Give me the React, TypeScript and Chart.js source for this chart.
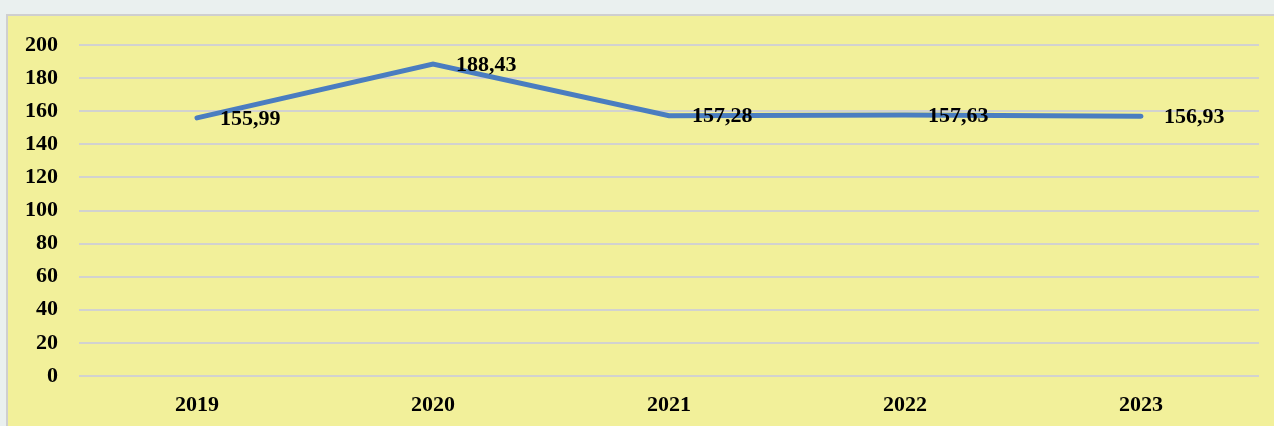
import React, { useEffect, useRef } from "react";
import { Chart, registerables } from "chart.js";

Chart.register(...registerables);

const categories = ["2019", "2020", "2021", "2022", "2023"];
const values = [155.99, 188.43, 157.28, 157.63, 156.93];
const yMin = 0;
const yMax = 200;
const yStep = 20;

const FONT = '"Liberation Serif", "Times New Roman", serif';

const labelPlugin = {
  id: "valueLabels",
  afterDatasetsDraw(chart: any) {
    const ctx = chart.ctx;
    const meta = chart.getDatasetMeta(0);
    ctx.save();
    ctx.font = `bold 22px ${FONT}`;
    ctx.fillStyle = "#000000";
    ctx.textAlign = "left";
    ctx.textBaseline = "middle";
    meta.data.forEach((pt: any, i: number) => {
      const txt = values[i].toFixed(2).replace(".", ",");
      ctx.fillText(txt, pt.x + 23, pt.y + 1);
    });
    ctx.restore();
  },
};

export default function App() {
  const ref = useRef<HTMLCanvasElement | null>(null);
  useEffect(() => {
    document.body.style.margin = "0";
    const c = ref.current;
    if (!c) return;
    const chart = new Chart(c, {
      type: "line",
      data: {
        labels: categories,
        datasets: [
          {
            data: values,
            borderColor: "#4A7DC0",
            backgroundColor: "#4A7DC0",
            borderWidth: 5,
            tension: 0,
            pointRadius: 0,
            pointHoverRadius: 0,
            borderCapStyle: "round",
            borderJoinStyle: "miter",
            fill: false,
          },
        ],
      },
      options: {
        animation: false,
        responsive: false,
        maintainAspectRatio: false,
        layout: { padding: { top: 29, right: 15, left: 0, bottom: 0 } },
        plugins: {
          legend: { display: false },
          tooltip: { enabled: false },
          title: { display: false },
        },
        scales: {
          x: {
            offset: true,
            grid: { display: false, drawTicks: false },
            border: { display: false },
            ticks: {
              color: "#000000",
              font: { family: FONT, size: 22, weight: "bold" },
              padding: 16,
              maxRotation: 0,
            },
            afterFit(scale: any) {
              scale.height = 50;
              scale.paddingLeft = 0;
              scale.paddingRight = 0;
            },
          },
          y: {
            min: yMin,
            max: yMax,
            grid: { color: "#D2D2D0", lineWidth: 2, drawTicks: false },
            border: { display: false },
            ticks: {
              stepSize: yStep,
              color: "#000000",
              font: { family: FONT, size: 22, weight: "bold" },
              padding: 21,
            },
            afterFit(scale: any) {
              scale.width = 71;
              scale.paddingTop = 0;
              scale.paddingBottom = 0;
            },
          },
        },
      },
      plugins: [labelPlugin],
    });
    return () => chart.destroy();
  }, []);

  return (
    <div
      style={{
        position: "fixed",
        left: 0,
        top: 0,
        width: 1274,
        height: 426,
        background: "#EAF0EF",
        overflow: "hidden",
      }}
    >
      <div
        style={{
          position: "absolute",
          left: 6,
          top: 14,
          width: 1268,
          height: 412,
          boxSizing: "border-box",
          borderLeft: "2px solid #CFCFCF",
          borderTop: "2px solid #CFCFCF",
          background: "#F2F09A",
        }}
      >
        <canvas ref={ref} width={1266} height={410} style={{ display: "block" }} />
      </div>
    </div>
  );
}
